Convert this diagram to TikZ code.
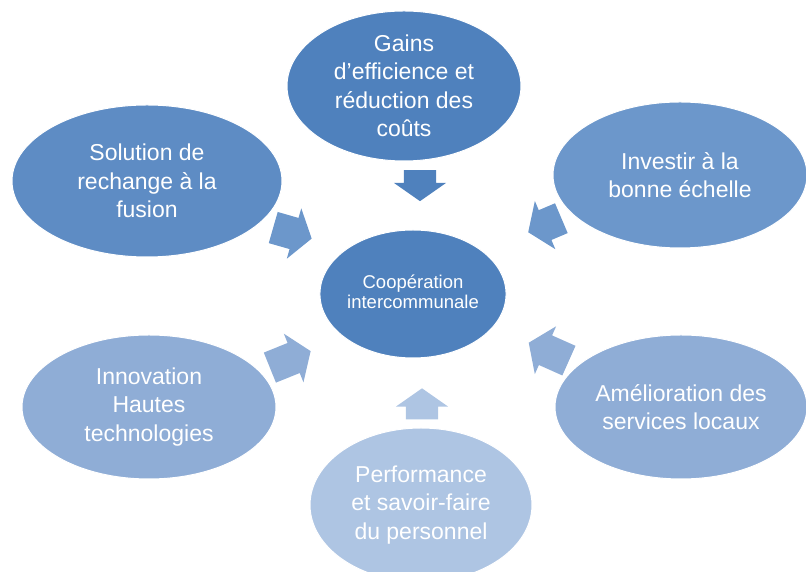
\documentclass[tikz,border=0pt]{standalone}
\usepackage{fontspec}
\setmainfont{Liberation Sans}
\usepackage{xcolor}
\usetikzlibrary{shapes.geometric, shapes.arrows}

\definecolor{bleuA}{RGB}{79,129,189}
\definecolor{bleuB}{RGB}{94,140,196}
\definecolor{bleuBb}{RGB}{108,151,203}
\definecolor{bleuC}{RGB}{143,173,214}
\definecolor{bleuD}{RGB}{174,197,227}

\tikzset{
    bulle/.style={ellipse, inner sep=0pt, draw=white, line width=1pt, text=white,
        align=center, font=\fontsize{23}{28.5}\selectfont},
    fleche/.style={single arrow, inner xsep=0pt, inner ysep=16pt,
        single arrow head extend=10pt, single arrow tip angle=110, draw=none}
}

\begin{document}
\begin{tikzpicture}[x=1pt, y=1pt]
        \useasboundingbox (0, 0) rectangle (806, 572);
        \clip (0, 0) rectangle (806, 572);

        % arrows pointing to the middle
        \node[fleche, fill=bleuA, minimum height=31pt, rotate=-90] (f-gains) at (420, 392) {};
        \node[fleche, fill=bleuBb, minimum height=40pt, rotate=-16] (f-solution) at (287, 340.5) {};
        \node[fleche, fill=bleuBb, minimum height=36pt, rotate=203] (f-investir) at (550, 349) {};
        \node[fleche, fill=bleuC, minimum height=44pt, rotate=22] (f-innovation) at (285, 210.5) {};
        \node[fleche, fill=bleuC, minimum height=44pt, rotate=156] (f-amelioration) at (554, 218) {};
        \node[fleche, fill=bleuD, minimum height=31pt, rotate=90] (f-performance) at (422, 162.5) {};

        % the ellipses
        \node[bulle, fill=bleuA, minimum width=234, minimum height=150] (gains) at (404, 486)
            {Gains\\d’efficience et\\réduction des\\coûts};
        \node[bulle, fill=bleuB, minimum width=270, minimum height=152] (solution) at (147, 391)
            {Solution de\\rechange à la\\fusion};
        \node[bulle, fill=bleuBb, minimum width=254, minimum height=146] (investir) at (680, 397)
            {Investir à la\\bonne échelle};
        \node[bulle, fill=bleuC, minimum width=254, minimum height=144] (innovation) at (149, 165)
            {Innovation\\Hautes\\technologies};
        \node[bulle, fill=bleuC, minimum width=252, minimum height=144] (amelioration) at (681, 165)
            {Amélioration des\\services locaux};
        \node[bulle, fill=bleuD, minimum width=222, minimum height=154] (performance) at (421, 67)
            {Performance\\et savoir-faire\\du personnel};
        \node[bulle, fill=bleuA, minimum width=181, minimum height=128,
            font=\fontsize{18.5}{23}\selectfont] (centre) at (413, 278)
            {\raisebox{4pt}{\shortstack{Coopération\\intercommunale}}};
\end{tikzpicture}
\end{document}
